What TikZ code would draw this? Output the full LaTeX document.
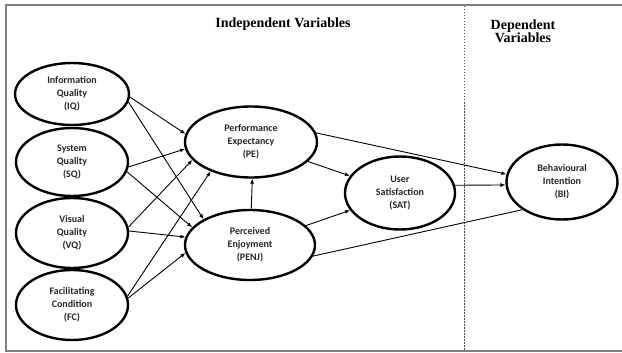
\documentclass[tikz,border=0pt]{standalone}
\usepackage{fontspec}
\setmainfont{Liberation Serif}
\newfontfamily\varfont{Carlito}
\usetikzlibrary{shapes.geometric,arrows.meta}

\begin{document}
\begin{tikzpicture}[x=1pt, y=-1pt,
    var/.style={ellipse, draw, line width=2.4pt, inner sep=0pt, align=center,
        text=black!85, font=\varfont\bfseries\fontsize{10}{13}\selectfont},
    link/.style={-{Latex[length=5pt,width=4pt]}, line width=0.9pt},
    heading/.style={align=center, font=\bfseries\fontsize{14}{13.5}\selectfont}]
    \useasboundingbox (0,0) rectangle (622,353);
    \draw[gray, line width=1.6pt] (622,5) -- (6,5) -- (6,351) -- (622,351);
    \draw[black!70, line width=0.8pt, dash pattern=on 1.5pt off 1.5pt] (464,6) -- (464,350);

    \node[heading] (indep) at (283,24) {Independent Variables};
    \node[heading] (dep) at (523,31) {Dependent\\Variables};

    \node[var, minimum width=114pt, minimum height=62pt] (iq) at (72,94) {Information\\Quality\\(IQ)};
    \node[var, minimum width=112pt, minimum height=68pt] (sq) at (72,162) {System\\Quality\\(SQ)};
    \node[var, minimum width=112pt, minimum height=70pt] (vq) at (72,233) {Visual\\Quality\\(VQ)};
    \node[var, minimum width=112pt, minimum height=70pt] (fc) at (72,305) {Facilitating\\Condition\\(FC)};
    \node[var, minimum width=132pt, minimum height=71pt] (pe) at (251,142) {Performance\\Expectancy\\(PE)};
    \node[var, minimum width=130pt, minimum height=70pt] (penj) at (250,245) {Perceived\\Enjoyment\\(PENJ)};
    \node[var, minimum width=110pt, minimum height=73pt] (sat) at (400,193) {User\\Satisfaction\\(SAT)};
    \node[var, minimum width=111pt, minimum height=75pt] (bi) at (562,182) {Behavioural\\Intention\\(BI)};

    \draw[link] (iq.-3) -- (pe.173);
    \draw[link] (iq.-8) -- (penj.151);
    \draw[link] (sq.-5) -- (pe.186);
    \draw[link] (sq.-10) -- (penj.163);
    \draw[link] (vq.6) -- (pe.197);
    \draw[link] (vq.2) -- (penj.173);
    \draw[link] (fc.9) -- (pe.216);
    \draw[link] (fc.7) -- (penj.187);
    \draw[link] (penj.88) -- (pe.-88);
    \draw[link] (pe) -- (sat);
    \draw[link] (penj) -- (sat);
    \draw[link] (pe.8) -- (bi.172);
    \draw[link] (sat.8) -- (bi.183);
    \draw[line width=0.9pt] (penj.-10) -- (bi.215);
\end{tikzpicture}
\end{document}
